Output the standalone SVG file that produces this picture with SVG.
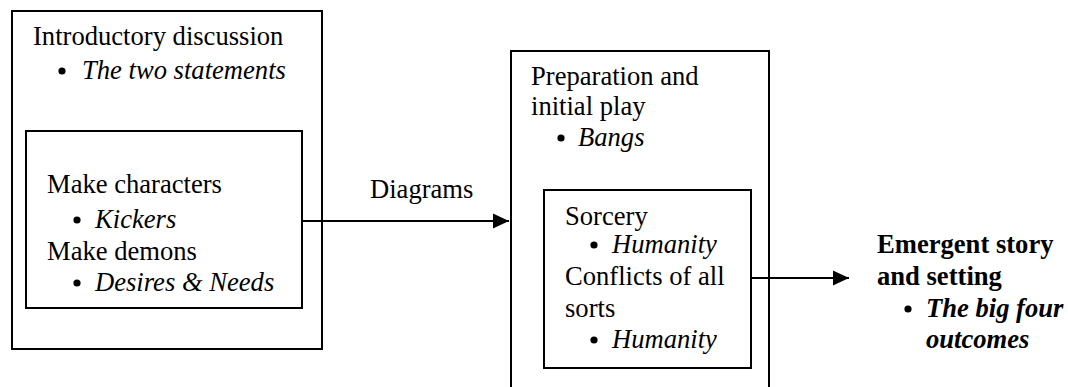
<svg xmlns="http://www.w3.org/2000/svg" width="1068" height="387" viewBox="0 0 1068 387">
<style>
.box{fill:none;stroke:#000;stroke-width:2}
.lbl{font-family:'Liberation Serif','Times New Roman',serif;font-size:26.6px;fill:#000}
.it{font-style:italic}
.bd{font-weight:bold}
.edge{stroke:#000;stroke-width:2;fill:none}
</style>
<defs>
<marker id="ah" markerUnits="userSpaceOnUse" markerWidth="16" markerHeight="16" refX="16" refY="8" orient="auto" viewBox="0 0 16 16">
<path d="M0,0.5 L16,8 L0,15.5 Z" fill="#000"/>
</marker>
</defs>
<rect width="1068" height="387" fill="#fff"/>
<g id="intro">
<rect class="box" x="12" y="11" width="310" height="338"/>
<text class="lbl" x="33" y="45">Introductory discussion</text>
<circle cx="62" cy="71" r="3.6"/>
<text class="lbl it" x="82" y="79">The two statements</text>
</g>
<g id="make">
<rect class="box" x="26" y="131" width="276" height="177"/>
<text class="lbl" x="47" y="193">Make characters</text>
<circle cx="77" cy="220" r="3.6"/>
<text class="lbl it" x="95" y="228">Kickers</text>
<text class="lbl" x="47" y="260">Make demons</text>
<circle cx="77" cy="283" r="3.6"/>
<text class="lbl it" x="95" y="291">Desires &amp; Needs</text>
</g>
<g id="prep">
<path class="box" d="M511,388 V51 H769 V388"/>
<text class="lbl" x="531" y="85">Preparation and</text>
<text class="lbl" x="531" y="115">initial play</text>
<circle cx="561" cy="138" r="3.6"/>
<text class="lbl it" x="578" y="146">Bangs</text>
</g>
<g id="sorcery">
<rect class="box" x="544" y="190" width="207" height="178"/>
<text class="lbl" x="565" y="225">Sorcery</text>
<circle cx="594" cy="245" r="3.6"/>
<text class="lbl it" x="612" y="253">Humanity</text>
<text class="lbl" x="565" y="285">Conflicts of all</text>
<text class="lbl" x="565" y="317">sorts</text>
<circle cx="594" cy="340" r="3.6"/>
<text class="lbl it" x="612" y="348">Humanity</text>
</g>
<g id="emergent">
<text class="lbl bd" x="877" y="253">Emergent story</text>
<text class="lbl bd" x="877" y="285">and setting</text>
<circle cx="908" cy="309" r="3.6"/>
<text class="lbl bd it" x="926" y="317">The big four</text>
<text class="lbl bd it" x="926" y="348">outcomes</text>
</g>
<g id="connectors">
<line class="edge" x1="302" y1="221" x2="509" y2="221" marker-end="url(#ah)"/>
<text class="lbl" x="370" y="198">Diagrams</text>
<line class="edge" x1="751" y1="278" x2="849" y2="278" marker-end="url(#ah)"/>
</g>
</svg>
